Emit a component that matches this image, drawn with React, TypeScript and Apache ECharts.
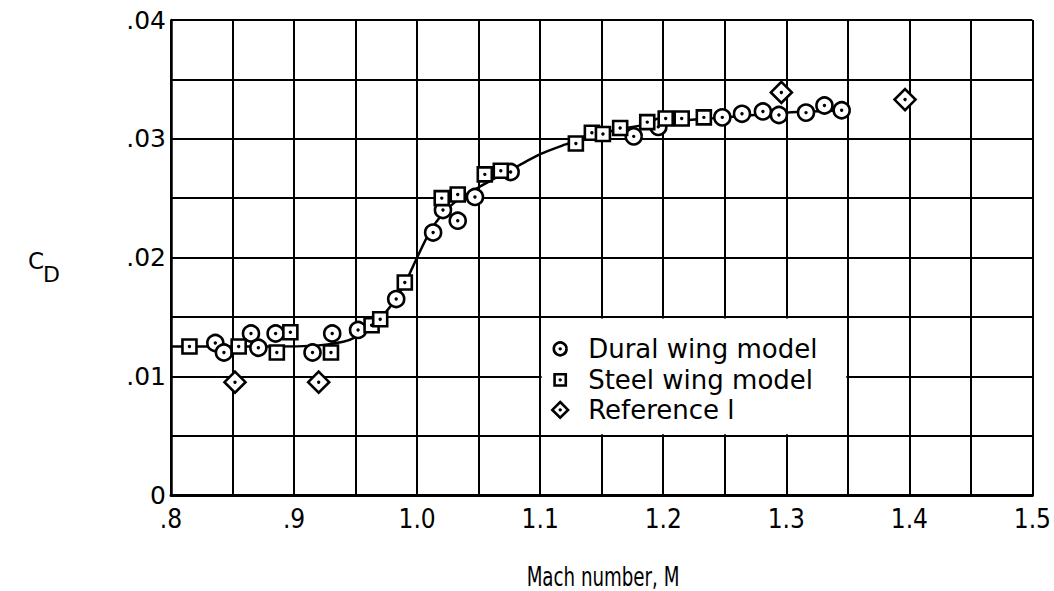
import React, { useEffect, useRef } from "react";
import * as echarts from "echarts";

const xTicks = [".8", ".9", "1.0", "1.1", "1.2", "1.3", "1.4", "1.5"];
const yTicks = ["0", ".01", ".02", ".03", ".04"];

const duralX = [0.836, 0.843, 0.865, 0.871, 0.885, 0.915, 0.931, 0.952, 0.983, 1.013, 1.021, 1.033, 1.047, 1.076, 1.176, 1.196, 1.248, 1.264, 1.281, 1.294, 1.316, 1.331, 1.345];
const duralY = [0.0128, 0.0120, 0.0136, 0.0124, 0.0136, 0.0120, 0.0136, 0.0139, 0.0165, 0.0221, 0.0240, 0.0231, 0.0251, 0.0272, 0.0302, 0.0310, 0.0318, 0.0321, 0.0323, 0.0320, 0.0322, 0.0328, 0.0324];

const steelX = [0.815, 0.855, 0.886, 0.897, 0.930, 0.963, 0.970, 0.990, 1.020, 1.033, 1.055, 1.068, 1.129, 1.142, 1.151, 1.165, 1.187, 1.202, 1.215, 1.233];
const steelY = [0.0125, 0.0125, 0.0120, 0.0137, 0.0120, 0.0143, 0.0148, 0.0179, 0.0250, 0.0253, 0.0270, 0.0273, 0.0296, 0.0305, 0.0304, 0.0309, 0.0314, 0.0317, 0.0317, 0.0318];

const refX = [0.852, 0.920, 1.296, 1.3965];
const refY = [0.0095, 0.0095, 0.0339, 0.0333];

const curveX = [0.80, 0.84, 0.88, 0.92, 0.94, 0.95, 0.96, 0.97, 0.98, 0.99, 1.00, 1.01, 1.02, 1.03, 1.04, 1.05, 1.06, 1.08, 1.10, 1.12, 1.14, 1.17, 1.20, 1.25, 1.30, 1.35];
const curveY = [0.0125, 0.0125, 0.0125, 0.0126, 0.0129, 0.0133, 0.0140, 0.0149, 0.0161, 0.0178, 0.0200, 0.0221, 0.0236, 0.0246, 0.0253, 0.0259, 0.0265, 0.0276, 0.0287, 0.0295, 0.0302, 0.0309, 0.0314, 0.0318, 0.0322, 0.0324];

const legendNames = ["Dural wing model", "Steel wing model", "Reference l"];
const xTitle = "Mach number, M";

const FONT = "'DejaVu Sans', sans-serif";
const FONT_C = "'DejaVu Sans Condensed', 'Liberation Sans Narrow', 'DejaVu Sans', sans-serif";

function markerShape(kind: string, cx: number, cy: number, scale = 1): any[] {
  const stroke = { fill: "#fff", stroke: "#000", lineWidth: 2.6 };
  let shape: any;
  if (kind === "circle") {
    shape = { type: "circle", shape: { cx, cy, r: 8 * scale }, style: stroke };
  } else if (kind === "square") {
    const h = 7 * scale;
    shape = { type: "rect", shape: { x: cx - h, y: cy - h, width: 2 * h, height: 2 * h }, style: stroke };
  } else {
    const h = 10.5 * scale;
    shape = {
      type: "polygon",
      shape: { points: [[cx, cy - h], [cx + h, cy], [cx, cy + h], [cx - h, cy]] },
      style: stroke,
    };
  }
  const dot = { type: "circle", shape: { cx, cy, r: 1.7 }, style: { fill: "#000" } };
  return [shape, dot];
}

function markerSeries(name: string, kind: string, xs: number[], ys: number[]) {
  return {
    type: "custom",
    name,
    data: xs.map((x, i) => [x, ys[i]]),
    encode: { x: 0, y: 1 },
    renderItem: (params: any, api: any) => {
      const p = api.coord([api.value(0), api.value(1)]);
      return { type: "group", children: markerShape(kind, p[0], p[1]) };
    },
    z: 5,
  };
}

export default function App() {
  const ref = useRef<HTMLDivElement>(null);
  useEffect(() => {
    if (!ref.current) return;
    const chart = echarts.init(ref.current, undefined, { renderer: "svg" });
    const option: any = {
      animation: false,
      backgroundColor: "#fff",
      grid: { left: 171, top: 20, right: 19, bottom: 96, containLabel: false },
      xAxis: {
        type: "value",
        min: 0.8,
        max: 1.5,
        interval: 0.05,
        axisLine: { show: true, lineStyle: { color: "#000", width: 3 } },
        axisTick: { show: false },
        splitLine: { show: true, lineStyle: { color: "#000", width: 2 } },
        axisLabel: {
          color: "#000",
          fontFamily: FONT_C,
          fontSize: 26,
          margin: 11,
          formatter: (v: number) => {
            const k = Math.round(v * 100);
            if (k % 10 !== 0) return "";
            return xTicks[(k - 80) / 10] ?? "";
          },
        },
      },
      yAxis: {
        type: "value",
        min: 0,
        max: 0.04,
        interval: 0.005,
        axisLine: { show: true, lineStyle: { color: "#000", width: 2.5 } },
        axisTick: { show: false },
        splitLine: { show: true, lineStyle: { color: "#000", width: 2 } },
        axisLabel: {
          color: "#000",
          fontFamily: FONT,
          fontSize: 25,
          margin: 5,
          formatter: (v: number) => {
            const k = Math.round(v * 1000);
            if (k % 10 !== 0) return "";
            return yTicks[k / 10] ?? "";
          },
        },
      },
      series: [
        {
          type: "line",
          data: curveX.map((x, i) => [x, curveY[i]]),
          smooth: 0.3,
          showSymbol: false,
          lineStyle: { color: "#000", width: 2.5 },
          z: 3,
        },
        markerSeries(legendNames[0], "circle", duralX, duralY),
        markerSeries(legendNames[1], "square", steelX, steelY),
        markerSeries(legendNames[2], "diamond", refX, refY),
      ],
    };
    chart.setOption(option);

    const p1 = chart.convertToPixel({ gridIndex: 0 }, [1.1, 0.015]) as number[];
    const p2 = chart.convertToPixel({ gridIndex: 0 }, [1.35, 0.005]) as number[];
    const kinds = ["circle", "square", "diamond"];
    const rowOff = [32, 63, 93];
    const graphics: any[] = [
      {
        type: "rect",
        z: 100,
        shape: { x: p1[0] + 1.5, y: p1[1] + 1.5, width: p2[0] - p1[0] - 3, height: p2[1] - p1[1] - 3 },
        style: { fill: "#fff" },
      },
    ];
    legendNames.forEach((n, i) => {
      const cy = p1[1] + rowOff[i];
      const cx = p1[0] + 20;
      const parts = markerShape(kinds[i], cx, cy, i === 2 ? 0.75 : 0.8);
      parts.forEach((pt) => graphics.push({ ...pt, z: 101 }));
      graphics.push({
        type: "text",
        z: 101,
        x: p1[0] + 48,
        y: cy,
        style: {
          text: n,
          fill: "#000",
          fontFamily: FONT,
          fontSize: 26,
          verticalAlign: "middle",
          align: "left",
        },
      });
    });
    graphics.push({
      type: "text",
      z: 101,
      x: 603,
      y: 577,
      scaleX: 0.78,
      style: { text: xTitle, fill: "#000", fontFamily: FONT_C, fontSize: 26, align: "center", verticalAlign: "middle" },
    });
    graphics.push({
      type: "text",
      z: 101,
      x: 28,
      y: 261,
      style: { text: "C", fill: "#000", fontFamily: FONT, fontSize: 23, verticalAlign: "middle" },
    });
    graphics.push({
      type: "text",
      z: 101,
      x: 43,
      y: 274,
      style: { text: "D", fill: "#000", fontFamily: FONT, fontSize: 22, verticalAlign: "middle" },
    });
    chart.setOption({ graphic: graphics });

    return () => chart.dispose();
  }, []);
  return (
    <div
      ref={ref}
      style={{ position: "fixed", left: 0, top: 0, width: 1054, height: 591, background: "#fff" }}
    />
  );
}
